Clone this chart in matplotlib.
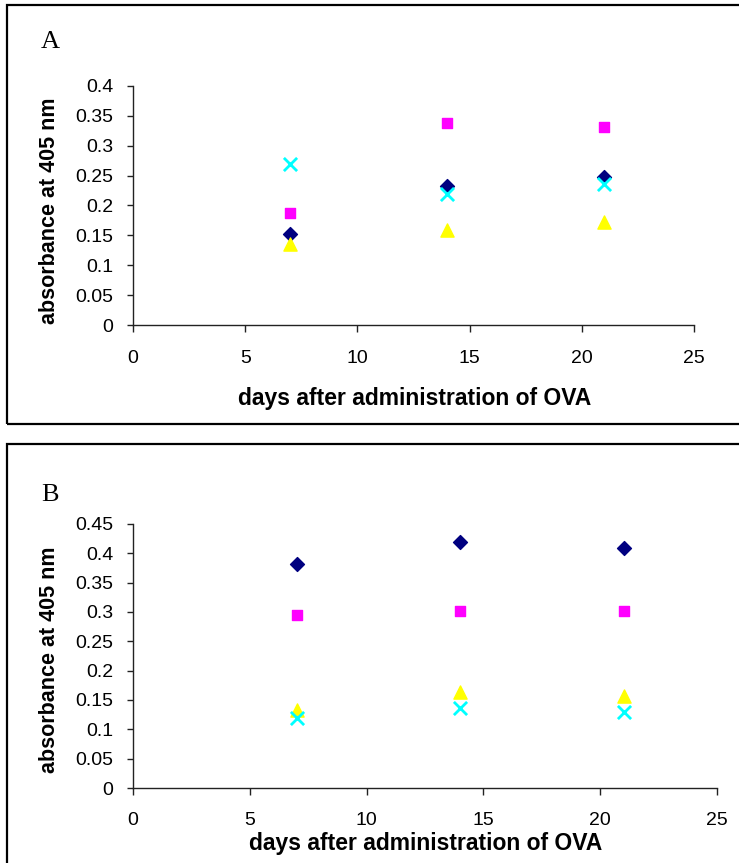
import matplotlib
matplotlib.use("Agg")
import matplotlib.pyplot as plt
from matplotlib.patches import Rectangle

# ---- data ----
days = [7, 14, 21]

a_navy = [0.153, 0.232, 0.248]
a_magenta = [0.188, 0.338, 0.332]
a_yellow = [0.135, 0.159, 0.173]
a_cyan = [0.270, 0.219, 0.236]

b_navy = [0.382, 0.419, 0.409]
b_magenta = [0.295, 0.302, 0.302]
b_yellow = [0.133, 0.164, 0.157]
b_cyan = [0.119, 0.137, 0.130]

a_yticks = [0, 0.05, 0.1, 0.15, 0.2, 0.25, 0.3, 0.35, 0.4]
b_yticks = [0, 0.05, 0.1, 0.15, 0.2, 0.25, 0.3, 0.35, 0.4, 0.45]
xticks = [0, 5, 10, 15, 20, 25]

W, H = 739, 863
SANS = ["Liberation Sans", "DejaVu Sans"]
SERIF = ["Liberation Serif", "DejaVu Serif"]


def px(x0, y0, x1, y1):
    # pixel box (top-left origin) -> figure fraction rect
    return [x0 / W, 1 - y1 / H, (x1 - x0) / W, (y1 - y0) / H]


def draw(ax, navy, magenta, yellow, cyan, yticks, ymax, xpad):
    ax.scatter(days, navy, marker="D", s=50, color="#000080", zorder=3)
    ax.scatter(days, magenta, marker="s", s=60, color="#ff00ff", zorder=3)
    ax.scatter(days, yellow, marker="^", s=90, color="#ffff00", zorder=3)
    ax.scatter(days, cyan, marker="x", s=90, color="#00ffff", linewidths=2, zorder=4)
    ax.set_xlim(0, 25)
    ax.set_ylim(0, ymax)
    ax.set_xticks(xticks)
    ax.set_xticklabels([str(t) for t in xticks], family=SANS, fontsize=14)
    ax.set_yticks(yticks)
    ax.set_yticklabels([f"{t:g}" for t in yticks], family=SANS, fontsize=14)
    for s in ["top", "right"]:
        ax.spines[s].set_visible(False)
    for s in ["left", "bottom"]:
        ax.spines[s].set_color("#222222")
        ax.spines[s].set_linewidth(1.0)
    ax.tick_params(axis="x", direction="out", length=5, width=1, pad=xpad,
                   colors="#222222", labelcolor="black")
    ax.tick_params(axis="y", direction="out", length=4, width=1, pad=10,
                   colors="#222222", labelcolor="black")


fig = plt.figure(figsize=(W / 100, H / 100), dpi=100)

# panel borders
fig.patches.append(Rectangle((7 / W, 1 - 424 / H), (W + 10) / W, 419 / H,
                             transform=fig.transFigure, fill=False,
                             edgecolor="black", linewidth=1.6))
fig.patches.append(Rectangle((7 / W, -0.05), (W + 10) / W, 0.05 + 1 - 444 / H,
                             transform=fig.transFigure, fill=False,
                             edgecolor="black", linewidth=1.6))

axA = fig.add_axes(px(133, 86, 694, 325))
draw(axA, a_navy, a_magenta, a_yellow, a_cyan, a_yticks, 0.4, 13)
axB = fig.add_axes(px(133, 524, 717, 788))
draw(axB, b_navy, b_magenta, b_yellow, b_cyan, b_yticks, 0.45, 12)

fig.text(41 / W, 1 - 42 / H, "A", family=SERIF, fontsize=19, va="center", ha="left")
fig.text(41 / W, 1 - 495 / H, "B", family=SERIF, fontsize=19, va="center", ha="left")

ylab = "absorbance at 405 nm"
xlab = "days after administration of OVA"
fig.text(50 / W, 1 - 211 / H, ylab, family=SANS, fontweight="bold", fontsize=15.5,
         rotation=90, ha="center", va="center")
fig.text(50 / W, 1 - 660 / H, ylab, family=SANS, fontweight="bold", fontsize=15.5,
         rotation=90, ha="center", va="center")
fig.text(415 / W, 1 - 399 / H, xlab, family=SANS, fontweight="bold", fontsize=16.5,
         ha="center", va="center")
fig.text(426 / W, 1 - 843 / H, xlab, family=SANS, fontweight="bold", fontsize=16.5,
         ha="center", va="center")

fig.savefig("out.png", dpi=100)
